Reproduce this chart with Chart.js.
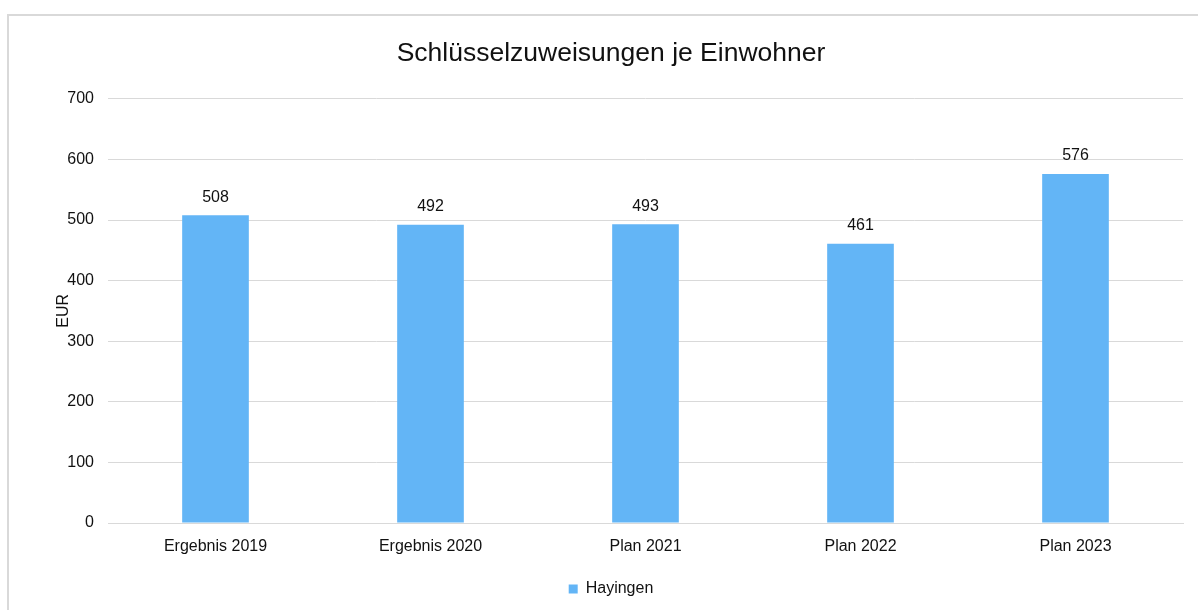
<!DOCTYPE html>
<html lang="de">
<head>
    <meta charset="UTF-8">
    <title>Schlüsselzuweisungen je Einwohner</title>
    <script src="https://cdn.jsdelivr.net/npm/chart.js@4"></script>
    <style>
        html, body {
            margin: 0;
            padding: 0;
            background: #fff;
            overflow: hidden;
        }

        .frame {
            position: absolute;
            left: 7px;
            top: 14px;
            width: 1204px;
            height: 594px;
            border-left: 2px solid #d9d9d9;
            border-top: 2px solid #d9d9d9;
        }
    </style>
</head>
<body>
    <div class="frame">
        <canvas id="chart" width="1204" height="594"></canvas>
    </div>
    <script>
        const categories = ['Ergebnis 2019', 'Ergebnis 2020', 'Plan 2021', 'Plan 2022', 'Plan 2023'];
        const seriesName = 'Hayingen';
        const values = [508, 492, 493, 461, 576];
        const yTicks = [0, 100, 200, 300, 400, 500, 600, 700];

        const textColor = '#111';
        const font = "'Liberation Sans', Arial, sans-serif";

        // draws the number above each bar
        const valueLabels = {
            id: 'valueLabels',
            afterDatasetsDraw(chart) {
                const ctx = chart.ctx;
                const meta = chart.getDatasetMeta(0);
                ctx.save();
                ctx.font = '16px ' + font;
                ctx.fillStyle = textColor;
                ctx.textAlign = 'center';
                ctx.textBaseline = 'middle';
                meta.data.forEach((bar, i) => {
                    ctx.fillText(String(values[i]), bar.x, bar.y - 18);
                });
                ctx.restore();
            }
        };

        new Chart(document.getElementById('chart'), {
            type: 'bar',
            data: {
                labels: categories,
                datasets: [{
                    label: seriesName,
                    data: values,
                    backgroundColor: '#63b5f6',
                    borderWidth: 0,
                    categoryPercentage: 1,
                    barPercentage: 0.31
                }]
            },
            options: {
                responsive: false,
                animation: false,
                layout: {
                    padding: { left: 0, right: 0, top: 0, bottom: 3 }
                },
                plugins: {
                    title: {
                        display: true,
                        text: 'Schlüsselzuweisungen je Einwohner',
                        color: textColor,
                        font: { family: font, size: 26.5, weight: 'normal' },
                        padding: { top: 22, bottom: 29 }
                    },
                    legend: {
                        position: 'bottom',
                        labels: {
                            color: textColor,
                            font: { family: font, size: 16 },
                            boxWidth: 9,
                            boxHeight: 9,
                            padding: 10
                        }
                    },
                    tooltip: { enabled: false }
                },
                scales: {
                    x: {
                        grid: { display: false, drawTicks: false },
                        border: { display: true, color: '#d9d9d9', width: 1 },
                        ticks: {
                            color: textColor,
                            font: { family: font, size: 16 },
                            padding: 14,
                            maxRotation: 0
                        },
                        afterFit(scale) {
                            scale.height = 48;
                        }
                    },
                    y: {
                        min: 0,
                        max: 700,
                        afterBuildTicks(scale) {
                            scale.ticks = yTicks.map(v => ({ value: v }));
                        },
                        grid: { color: '#d9d9d9', drawTicks: false },
                        border: { display: false },
                        ticks: {
                            color: textColor,
                            font: { family: font, size: 16 },
                            padding: 14
                        },
                        title: {
                            display: true,
                            text: 'EUR',
                            color: textColor,
                            font: { family: font, size: 16 },
                            padding: { top: 45, bottom: 0 }
                        },
                        afterFit(scale) {
                            scale.width = 99;
                        }
                    },
                    // empty right-hand axis, only reserves the margin right of the plot
                    yRight: {
                        position: 'right',
                        grid: { display: false, drawTicks: false },
                        border: { display: false },
                        ticks: { display: false },
                        afterFit(scale) {
                            scale.width = 30;
                        }
                    }
                }
            },
            plugins: [valueLabels]
        });
    </script>
</body>
</html>
